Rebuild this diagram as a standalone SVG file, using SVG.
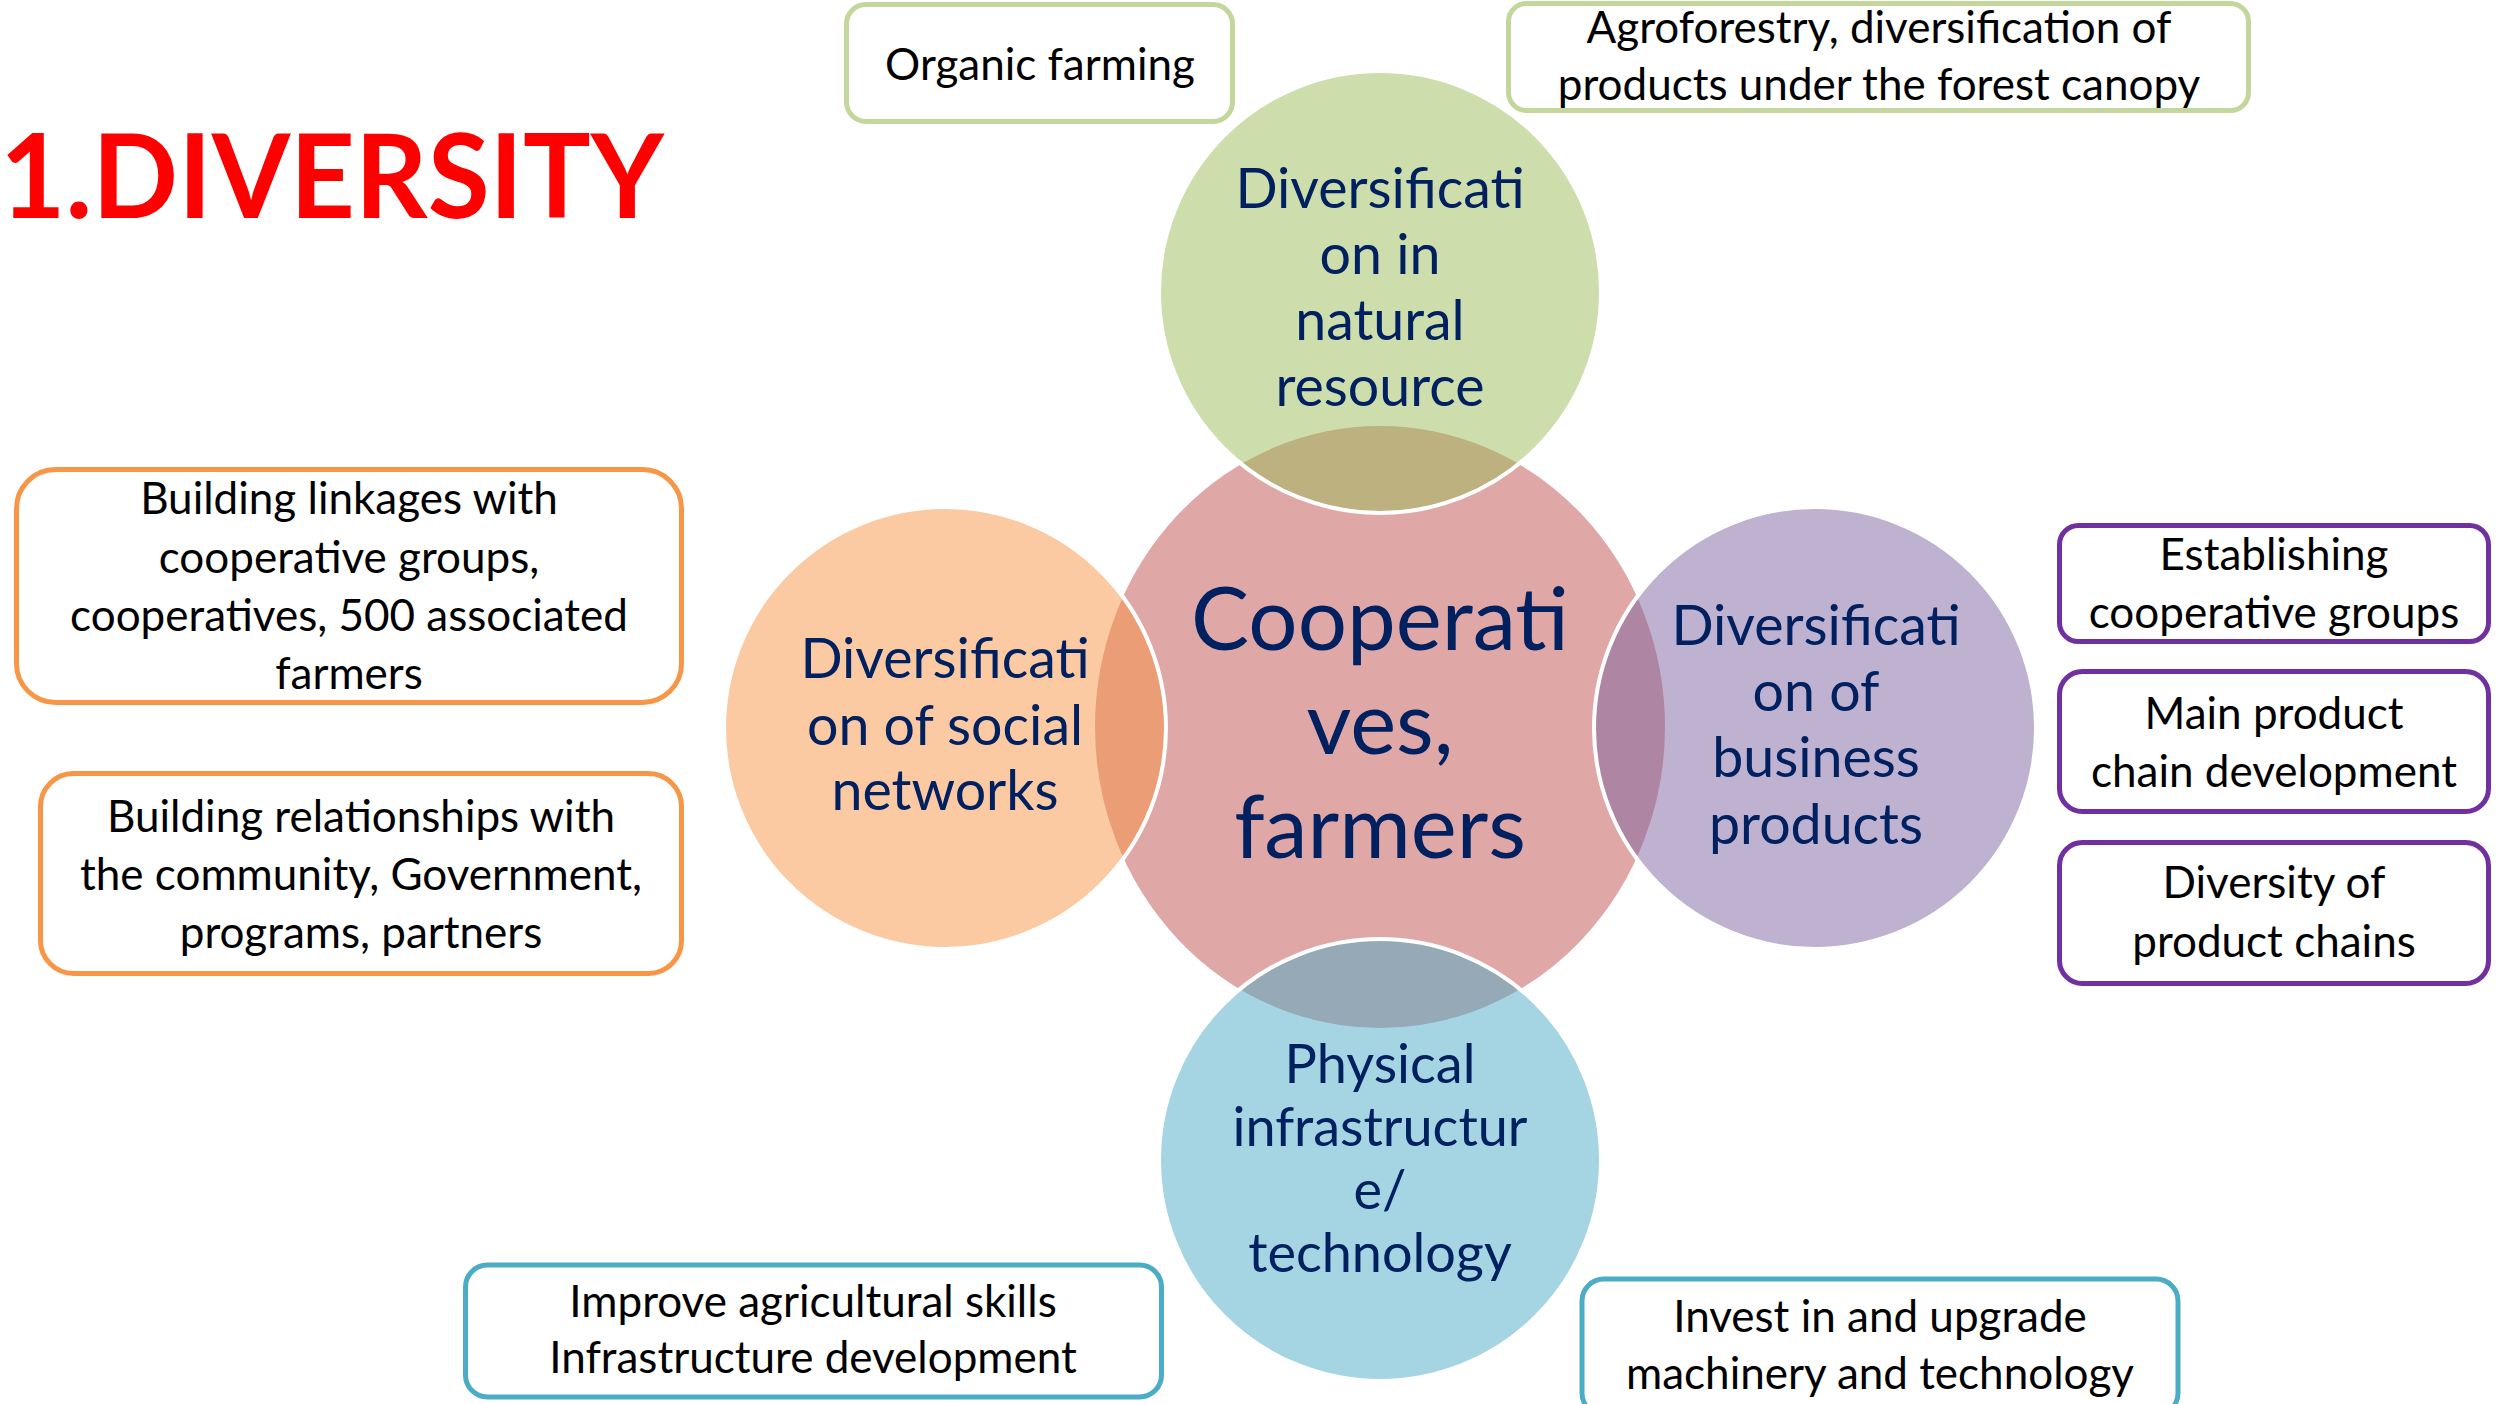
<svg xmlns="http://www.w3.org/2000/svg" width="2496" height="1404" viewBox="0 0 2496 1404">
<style>
.bg{fill:#ffffff}
.circ{stroke:#ffffff;stroke-width:4}
.ctext{font-family:Lato,"Open Sans","Liberation Sans",sans-serif;fill:#002060;text-anchor:middle;font-size:55.5px}
.cbig{font-size:87px}
.box{fill:#ffffff;stroke-width:5}
.btext{font-family:Lato,"Open Sans","Liberation Sans",sans-serif;fill:#000000;text-anchor:middle;font-size:44px}
.title{font-family:Lato,"Liberation Sans",sans-serif;font-weight:bold;fill:#ff0000;font-size:116px}
</style>
<rect class="bg" x="0" y="0" width="2496" height="1404"/>
<text class="title" x="0" y="218" textLength="664" lengthAdjust="spacingAndGlyphs">1.DIVERSITY</text>

<g id="center">
<ellipse class="circ" cx="1380" cy="727" rx="287" ry="303" fill="#C0504D" fill-opacity="0.5"/>
</g>
<g id="natural">
<circle class="circ" cx="1380" cy="292" r="221" fill="#9BBB59" fill-opacity="0.5"/>
</g>
<g id="social">
<circle class="circ" cx="945" cy="728" r="221" fill="#F79646" fill-opacity="0.5"/>
</g>
<g id="business">
<circle class="circ" cx="1815" cy="728" r="221" fill="#8064A2" fill-opacity="0.5"/>
</g>
<g id="infra">
<circle class="circ" cx="1380" cy="1160" r="221" fill="#4BACC6" fill-opacity="0.5"/>
</g>

<g id="center-text">
<text class="ctext cbig" x="1380" y="650">Cooperati</text>
<text class="ctext cbig" x="1380" y="754">ves,</text>
<text class="ctext cbig" x="1380" y="858">farmers</text>
</g>
<g id="natural-text">
<text class="ctext" x="1380" y="208">Diversificati</text>
<text class="ctext" x="1380" y="274">on in</text>
<text class="ctext" x="1380" y="340">natural</text>
<text class="ctext" x="1380" y="406">resource</text>
</g>
<g id="social-text">
<text class="ctext" x="945" y="678">Diversificati</text>
<text class="ctext" x="945" y="745">on of social</text>
<text class="ctext" x="945" y="810">networks</text>
</g>
<g id="business-text">
<text class="ctext" x="1816" y="645">Diversificati</text>
<text class="ctext" x="1816" y="711">on of</text>
<text class="ctext" x="1816" y="777">business</text>
<text class="ctext" x="1816" y="844">products</text>
</g>
<g id="infra-text">
<text class="ctext" x="1380" y="1083" style="font-size:54px">Physical</text>
<text class="ctext" x="1380" y="1146" style="font-size:54px">infrastructur</text>
<text class="ctext" x="1380" y="1209" style="font-size:54px">e/</text>
<text class="ctext" x="1380" y="1272" style="font-size:54px">technology</text>
</g>

<g id="box-organic">
<rect class="box" x="846.5" y="4.5" width="386" height="117" rx="19.5" stroke="#C3D69B"/>
<text class="btext" x="1040" y="80">Organic farming</text>
</g>
<g id="box-agro">
<rect class="box" x="1508.5" y="3.5" width="740" height="107" rx="18" stroke="#C3D69B"/>
<text class="btext" x="1879" y="43">Agroforestry, diversification of</text>
<text class="btext" x="1879" y="100">products under the forest canopy</text>
</g>
<g id="box-linkages">
<rect class="box" x="16.5" y="469.5" width="665" height="233" rx="39" stroke="#F79646"/>
<text class="btext" x="349" y="514">Building linkages with</text>
<text class="btext" x="349" y="573">cooperative groups,</text>
<text class="btext" x="349" y="631">cooperatives, 500 associated</text>
<text class="btext" x="349" y="689">farmers</text>
</g>
<g id="box-relationships">
<rect class="box" x="40.5" y="773.5" width="641" height="200" rx="33" stroke="#F79646"/>
<text class="btext" x="361" y="832">Building relationships with</text>
<text class="btext" x="361" y="890">the community, Government,</text>
<text class="btext" x="361" y="948">programs, partners</text>
</g>
<g id="box-establishing">
<rect class="box" x="2059.5" y="525.5" width="429" height="116" rx="19" stroke="#7030A0"/>
<text class="btext" x="2274" y="570">Establishing</text>
<text class="btext" x="2274" y="628">cooperative groups</text>
</g>
<g id="box-mainchain">
<rect class="box" x="2059.5" y="671.5" width="429" height="140" rx="23" stroke="#7030A0"/>
<text class="btext" x="2274" y="729">Main product</text>
<text class="btext" x="2274" y="787">chain development</text>
</g>
<g id="box-diversity">
<rect class="box" x="2059.5" y="842.5" width="429" height="141" rx="23" stroke="#7030A0"/>
<text class="btext" x="2274" y="898">Diversity of</text>
<text class="btext" x="2274" y="957">product chains</text>
</g>
<g id="box-skills">
<rect class="box" x="465.5" y="1265" width="696" height="132" rx="22" stroke="#4BACC6"/>
<text class="btext" x="813" y="1317">Improve agricultural skills</text>
<text class="btext" x="813" y="1373">Infrastructure development</text>
</g>
<g id="box-invest">
<rect class="box" x="1582" y="1279" width="596" height="136" rx="22" stroke="#4BACC6"/>
<text class="btext" x="1880" y="1332">Invest in and upgrade</text>
<text class="btext" x="1880" y="1389">machinery and technology</text>
</g>
<g id="connectors"></g>
</svg>
